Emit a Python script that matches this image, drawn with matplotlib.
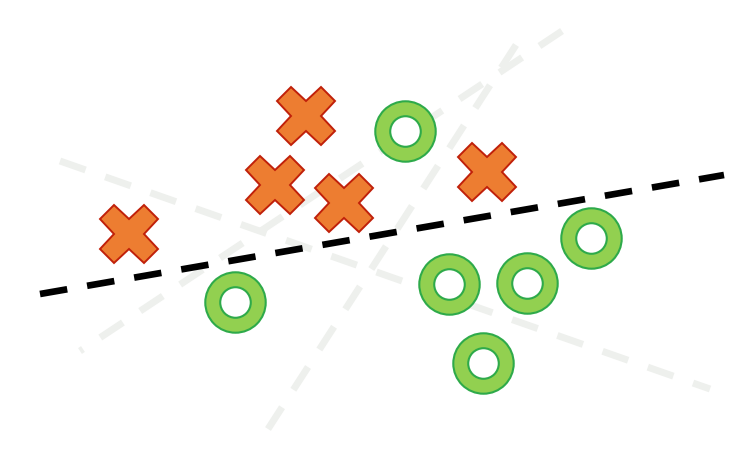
import matplotlib
matplotlib.use("Agg")
import matplotlib.pyplot as plt

plt.rcParams['lines.scale_dashes'] = False

# Data (picture coordinates, y downward)
cross_x = [129, 306, 275, 344, 487]
cross_y = [235, 117, 186, 204, 173]

ring_x = [235, 405, 449, 483, 527, 591]
ring_y = [303, 132, 285, 364, 284, 239]

# separating line (black dashed)
sep_x = [40, 724]
sep_y = [295, 176]

# faint candidate lines (grey dashed)
cand_x = [[60, 710], [562, 80], [516, 268]]
cand_y = [[162, 390], [32, 352], [46, 430]]

fig = plt.figure(figsize=(7.51, 4.52), dpi=100)
ax = fig.add_axes([0, 0, 1, 1])
ax.set_xlim(0, 751)
ax.set_ylim(452, 0)
ax.axis('off')

for xs, ys in zip(cand_x, cand_y):
    ax.plot(xs, ys, color='#EEF0ED', lw=5, linestyle=(0, (19.5, 15)),
            solid_capstyle='butt', zorder=1)

ax.plot(sep_x, sep_y, color='black', lw=4.8, linestyle=(0, (19.9, 14.5)),
        zorder=2)

ax.plot(ring_x, ring_y, linestyle='none', marker='o', markersize=43.5,
        markerfacecolor='#92D050', markeredgecolor='#2EAA4A',
        markeredgewidth=1.5, zorder=3)
ax.plot(ring_x, ring_y, linestyle='none', marker='o', markersize=22,
        markerfacecolor='white', markeredgecolor='#2EAA4A',
        markeredgewidth=1.5, zorder=4)

ax.plot(cross_x, cross_y, linestyle='none', marker='X', markersize=42,
        markerfacecolor='#ED7D31', markeredgecolor='#C0200A',
        markeredgewidth=1.4, zorder=5)

fig.savefig('out.png', dpi=100, facecolor='white')
